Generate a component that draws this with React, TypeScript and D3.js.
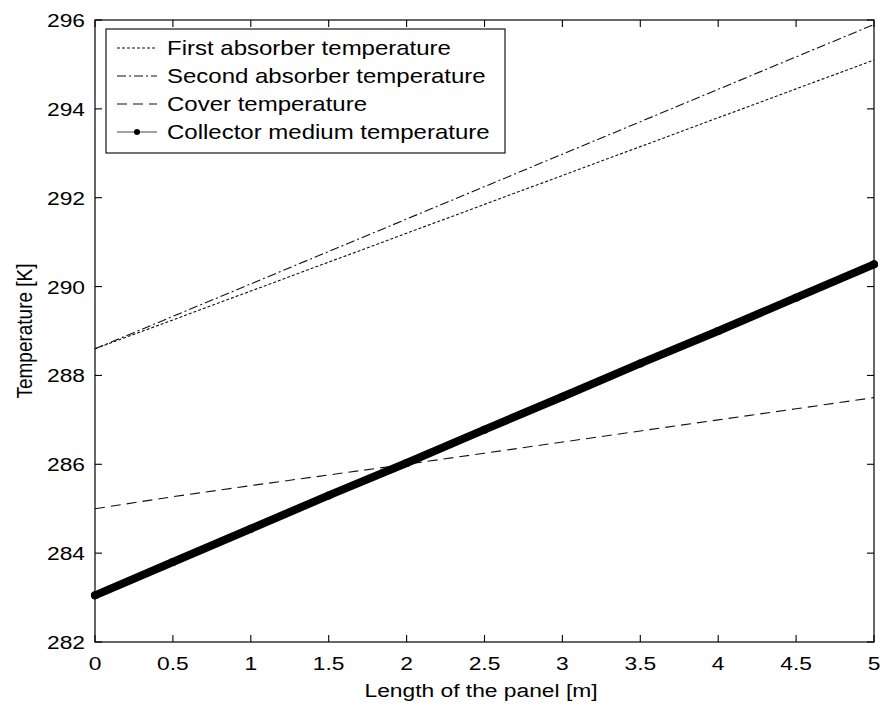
import React from "react";
import * as d3 from "d3";

// Position along the panel [m]
const lengthM = [0, 0.5, 1, 1.5, 2, 2.5, 3, 3.5, 4, 4.5, 5];
// Temperatures [K]
const firstAbsorber = [288.6, 289.25, 289.9, 290.55, 291.2, 291.85, 292.5, 293.15, 293.8, 294.45, 295.1];
const secondAbsorber = [288.6, 289.33, 290.06, 290.79, 291.52, 292.25, 292.98, 293.71, 294.44, 295.17, 295.9];
const coverTemp = [285.0, 285.27, 285.52, 285.76, 286.0, 286.25, 286.5, 286.75, 287.0, 287.25, 287.5];
const collectorTemp = [283.05, 283.8, 284.55, 285.3, 286.03, 286.78, 287.52, 288.27, 289.0, 289.75, 290.5];

const xTicks = [0, 0.5, 1, 1.5, 2, 2.5, 3, 3.5, 4, 4.5, 5];
const yTicks = [282, 284, 286, 288, 290, 292, 294, 296];
const legendLabels = [
  "First absorber temperature",
  "Second absorber temperature",
  "Cover temperature",
  "Collector medium temperature",
];

const W = 883;
const H = 705;
const left = 95;
const right = 874;
const top = 20;
const bottom = 642;
const font = "'Liberation Sans', Arial, Helvetica, sans-serif";
const stretch = 1.2; // glyphs are drawn slightly wide

function Label(props: { x: number; y: number; anchor?: string; size?: number; children: React.ReactNode }) {
  const { x, y, anchor = "start", size = 19, children } = props;
  return (
    <text
      transform={`translate(${x},${y}) scale(${stretch},1)`}
      textAnchor={anchor}
      fontSize={size}
      fill="#000"
    >
      {children}
    </text>
  );
}

export default function App() {
  const x = d3.scaleLinear().domain([0, 5]).range([left, right]);
  const y = d3.scaleLinear().domain([282, 296]).range([bottom, top]);
  const line = (vals: number[]) =>
    d3
      .line<number>()
      .x((_, i) => x(lengthM[i]))
      .y((v) => y(v))(vals) as string;

  const series = [
    { vals: firstAbsorber, dash: "3,2", w: 1.1 },
    { vals: secondAbsorber, dash: "9,3,2,3", w: 1.1 },
    { vals: coverTemp, dash: "10,6", w: 1.1 },
  ];

  const tickLen = 7;
  const legX = 106;
  const legY = 29;
  const legW = 399;
  const legH = 124;
  const rowY = (i: number) => legY + 19 + i * 28;

  return (
    <svg
      width={W}
      height={H}
      style={{ position: "absolute", left: 0, top: 0, background: "#fff" }}
      fontFamily={font}
    >
      <rect x={0} y={0} width={W} height={H} fill="#fff" />
      <defs>
        <clipPath id="plotClip">
          <rect x={left - 5} y={top - 5} width={right - left + 10} height={bottom - top + 10} />
        </clipPath>
      </defs>
      <g clipPath="url(#plotClip)">
        {series.map((s, i) => (
          <path key={i} d={line(s.vals)} fill="none" stroke="#111" strokeWidth={s.w} strokeDasharray={s.dash} />
        ))}
        <path d={line(collectorTemp)} fill="none" stroke="#000" strokeWidth={8} strokeLinecap="round" />
        {collectorTemp.map((v, i) => (
          <circle key={i} cx={x(lengthM[i])} cy={y(v)} r={4} fill="#000" />
        ))}
      </g>

      {/* axes box */}
      <rect x={left} y={top} width={right - left} height={bottom - top} fill="none" stroke="#000" strokeWidth={1.2} />

      {xTicks.map((t) => (
        <g key={"x" + t}>
          <line x1={x(t)} x2={x(t)} y1={bottom} y2={bottom - tickLen} stroke="#000" strokeWidth={1.1} />
          <line x1={x(t)} x2={x(t)} y1={top} y2={top + tickLen} stroke="#000" strokeWidth={1.1} />
          <Label x={x(t)} y={bottom + 28} anchor="middle">
            {t}
          </Label>
        </g>
      ))}
      {yTicks.map((t) => (
        <g key={"y" + t}>
          <line x1={left} x2={left + tickLen} y1={y(t)} y2={y(t)} stroke="#000" strokeWidth={1.1} />
          <line x1={right} x2={right - tickLen} y1={y(t)} y2={y(t)} stroke="#000" strokeWidth={1.1} />
          <Label x={85} y={y(t) + 7} anchor="end">
            {t}
          </Label>
        </g>
      ))}

      <Label x={481} y={697} anchor="middle">
        Length of the panel [m]
      </Label>
      <text
        transform={`translate(32,${(top + bottom) / 2}) scale(${stretch},1) rotate(-90)`}
        textAnchor="middle"
        fontSize={19}
        fill="#000"
      >
        Temperature [K]
      </text>

      {/* legend */}
      <rect x={legX} y={legY} width={legW} height={legH} fill="#fff" stroke="#000" strokeWidth={1.1} />
      {legendLabels.map((lab, i) => {
        const ly = rowY(i);
        return (
          <g key={lab}>
            {i < 3 ? (
              <line x1={117} x2={157} y1={ly} y2={ly} stroke="#111" strokeWidth={1.1} strokeDasharray={series[i].dash} />
            ) : (
              <g>
                <line x1={117} x2={157} y1={ly} y2={ly} stroke="#444" strokeWidth={1} />
                <circle cx={137} cy={ly} r={3} fill="#000" />
              </g>
            )}
            <Label x={167} y={ly + 7} size={20}>
              {lab}
            </Label>
          </g>
        );
      })}
    </svg>
  );
}
